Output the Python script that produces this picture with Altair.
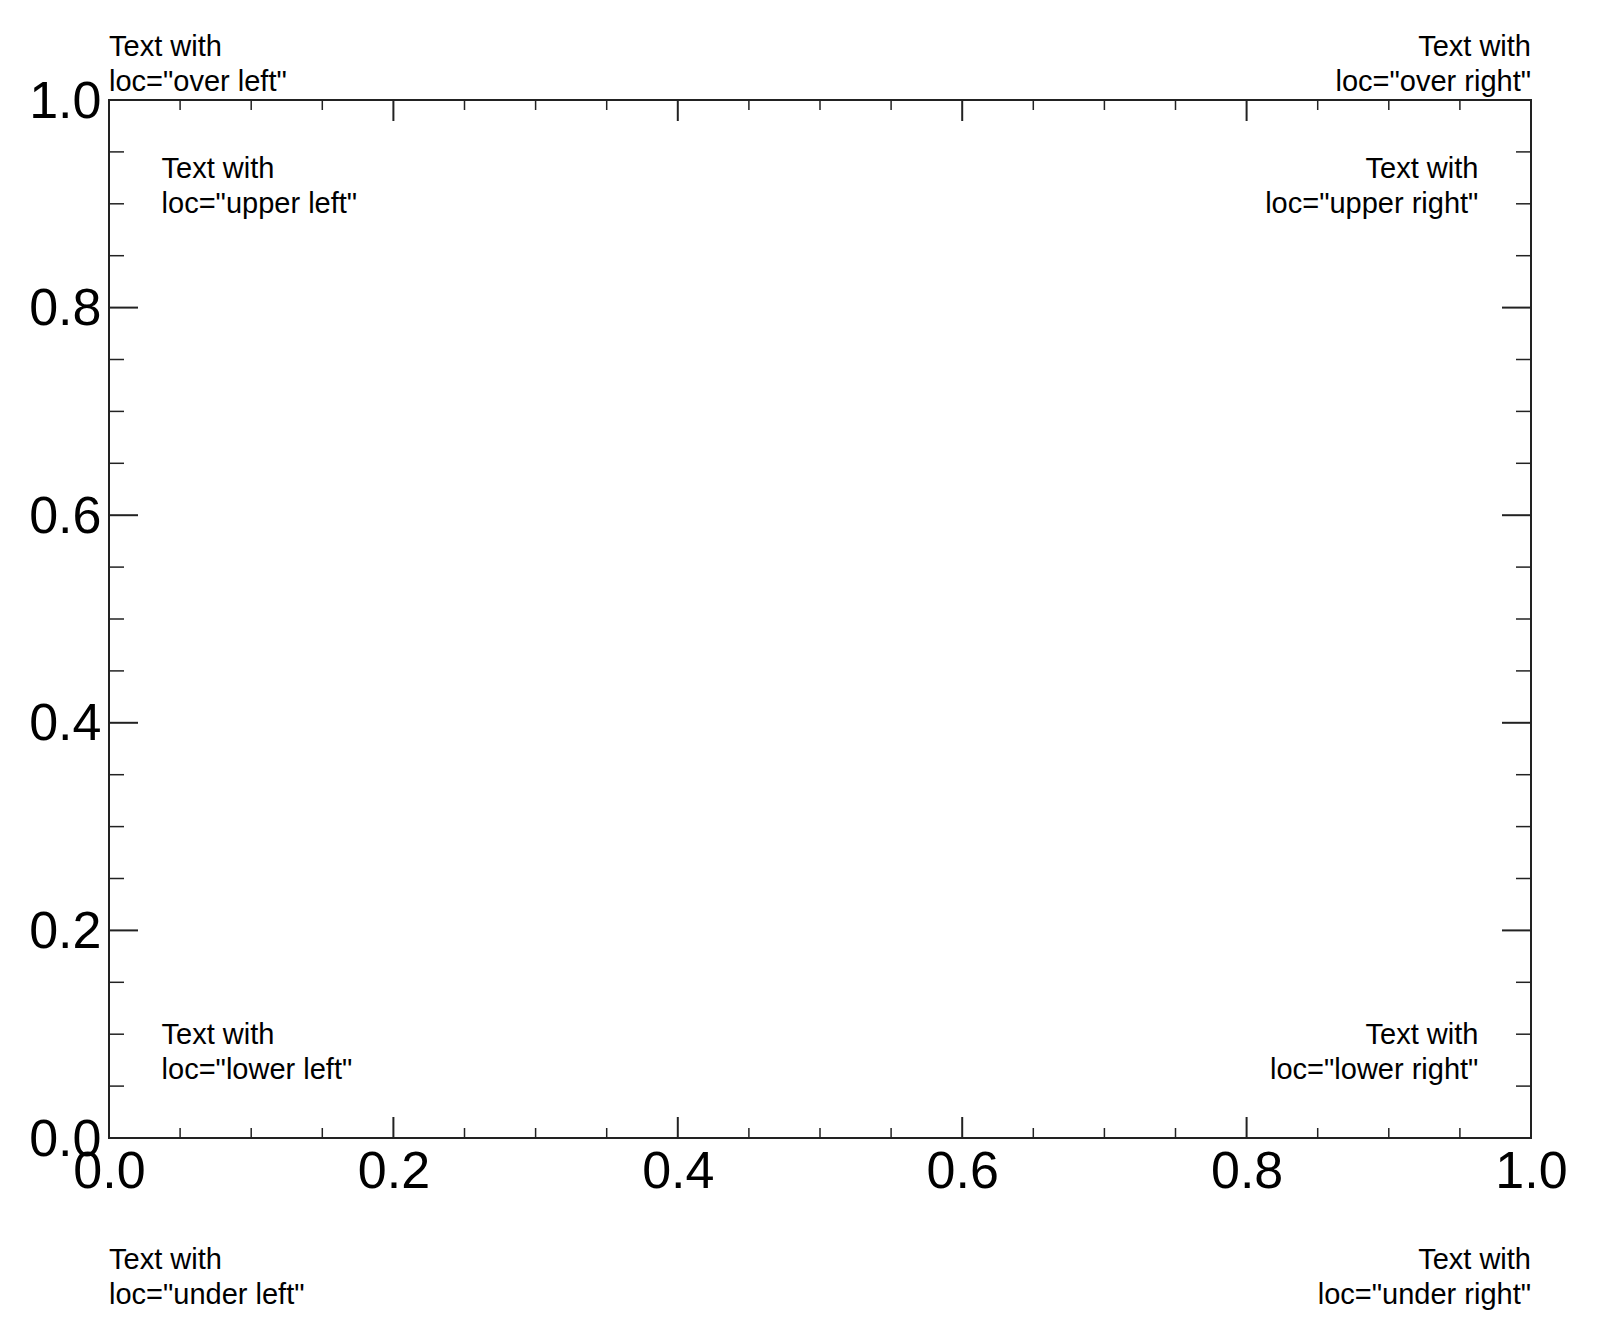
import altair as alt
import pandas as pd

# Axis tick values
x_major = [0.0, 0.2, 0.4, 0.6, 0.8, 1.0]
x_minor = [0.05, 0.1, 0.15, 0.25, 0.3, 0.35, 0.45, 0.5, 0.55, 0.65, 0.7, 0.75, 0.85, 0.9, 0.95]
y_major = [0.0, 0.2, 0.4, 0.6, 0.8, 1.0]
y_minor = [0.05, 0.1, 0.15, 0.25, 0.3, 0.35, 0.45, 0.5, 0.55, 0.65, 0.7, 0.75, 0.85, 0.9, 0.95]

# Annotation texts (anchor in axis/data coordinates)
left_locs = ["over left", "upper left", "lower left", "under left"]
left_x = [0.0, 0.037, 0.037, 0.0]
left_y = [1.0424, 0.9251, 0.0908, -0.1265]
right_locs = ["over right", "upper right", "lower right", "under right"]
right_x = [1.0, 0.963, 0.963, 1.0]
right_y = [1.0424, 0.9251, 0.0908, -0.1265]

W, H = 1422, 1038
FONT = "Liberation Sans"
INK = "#222222"
MAJ_X, MIN_X = 21, 10   # vertical tick lengths (x ticks)
MAJ_Y, MIN_Y = 29, 15   # horizontal tick lengths (y ticks)

xs = alt.Scale(domain=[0, 1], nice=False, zero=False)
ys = alt.Scale(domain=[0, 1], nice=False, zero=False)

def lbl(loc):
    return 'Text with\nloc="' + loc + '"'

left_df = pd.DataFrame({"x": left_x, "y": left_y, "t": [lbl(l) for l in left_locs]})
right_df = pd.DataFrame({"x": right_x, "y": right_y, "t": [lbl(l) for l in right_locs]})

# Base layer carrying the axes (labels only)
axes = alt.Chart(pd.DataFrame({"x": x_major, "y": y_major})).mark_point(opacity=0).encode(
    x=alt.X("x:Q", scale=xs, axis=alt.Axis(
        values=x_major, format=".1f", title=None, ticks=False, domain=False, grid=False,
        labelFontSize=52, labelFont=FONT, labelColor="black", labelPadding=8,
        labelFlush=False, labelOverlap=False, labelBound=False)),
    y=alt.Y("y:Q", scale=ys, axis=alt.Axis(
        values=y_major, format=".1f", title=None, ticks=False, domain=False, grid=False,
        labelFontSize=52, labelFont=FONT, labelColor="black", labelPadding=8,
        labelFlush=False, labelOverlap=False, labelBound=False, labelOffset=1)),
)

def xticks(vals, length, width):
    df = pd.DataFrame({"x": vals})
    bottom = alt.Chart(df).mark_rule(color=INK, strokeWidth=width).encode(
        x=alt.X("x:Q", scale=xs), y=alt.value(H), y2=alt.value(H - length))
    top = alt.Chart(df).mark_rule(color=INK, strokeWidth=width).encode(
        x=alt.X("x:Q", scale=xs), y=alt.value(0), y2=alt.value(length))
    return [bottom, top]

def yticks(vals, length, width):
    df = pd.DataFrame({"y": vals})
    left = alt.Chart(df).mark_rule(color=INK, strokeWidth=width).encode(
        y=alt.Y("y:Q", scale=ys), x=alt.value(0), x2=alt.value(length))
    right = alt.Chart(df).mark_rule(color=INK, strokeWidth=width).encode(
        y=alt.Y("y:Q", scale=ys), x=alt.value(W), x2=alt.value(W - length))
    return [left, right]

text_left = alt.Chart(left_df).mark_text(
    align="left", baseline="alphabetic", fontSize=29, font=FONT, color="black",
    lineBreak="\n", lineHeight=35).encode(
    x=alt.X("x:Q", scale=xs), y=alt.Y("y:Q", scale=ys), text="t:N")
text_right = alt.Chart(right_df).mark_text(
    align="right", baseline="alphabetic", fontSize=29, font=FONT, color="black",
    lineBreak="\n", lineHeight=35).encode(
    x=alt.X("x:Q", scale=xs), y=alt.Y("y:Q", scale=ys), text="t:N")

layers = [axes] + xticks(x_major, MAJ_X, 2) + xticks(x_minor, MIN_X, 1.5) \
    + yticks(y_major, MAJ_Y, 2) + yticks(y_minor, MIN_Y, 1.5) + [text_left, text_right]

chart = alt.layer(*layers).properties(
    width=W, height=H,
    background="white",
    autosize=alt.AutoSizeParams(type="none"),
    padding={"left": 101, "top": 92, "right": 50, "bottom": 185},
).configure_view(stroke=INK, strokeWidth=2)

chart.save("out.html", embed_options={"renderer": "svg", "actions": False})
